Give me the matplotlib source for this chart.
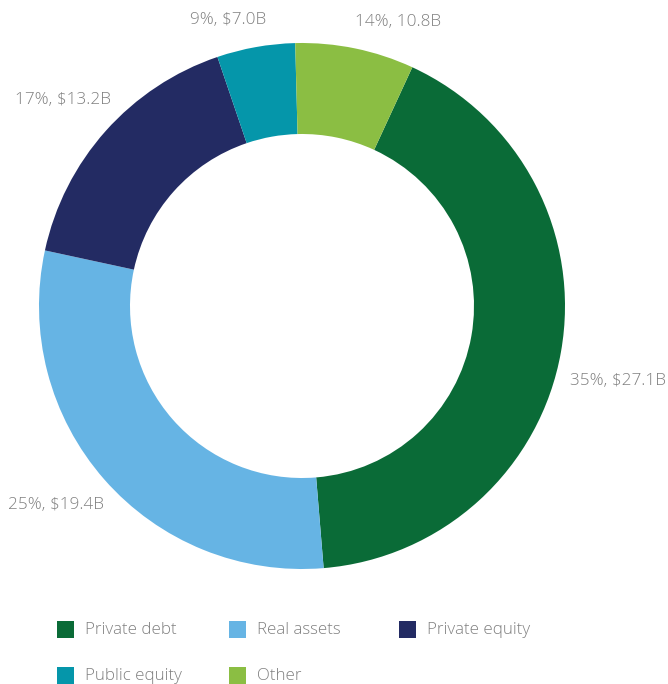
"""Donut chart of assets by class, with value labels and a square-marker legend."""

import matplotlib

matplotlib.use("Agg")
import matplotlib.pyplot as plt
from matplotlib.patches import Rectangle

# Slices in drawing order (clockwise, starting with private debt).
categories = ["Private debt", "Real assets", "Private equity", "Public equity", "Other"]
slice_share = [41.8, 29.7, 16.4, 4.8, 7.3]  # share of the ring as drawn
value_labels = ["35%, $27.1B", "25%, $19.4B", "17%, $13.2B", "9%, $7.0B", "14%, 10.8B"]
colors = ["#0a6b37", "#66b4e4", "#232b63", "#0596aa", "#8bbe43"]

W, H = 668, 684
CENTER = (302, 306)  # px, from top-left
RADIUS = 263
TEXT_GRAY = "#808080"

# label anchor (left x, centre y) in px, same order as categories
label_pos = [(570, 381), (8, 505), (15, 100), (190, 20), (355, 22)]
# legend square top-left in px
legend_pos = [(57, 621), (229, 621), (399, 621), (57, 667), (229, 667)]

plt.rcParams["font.family"] = ["Open Sans", "DejaVu Sans"]

fig = plt.figure(figsize=(W / 100, H / 100), dpi=100)
cx, cy = CENTER
ax = fig.add_axes(
    [(cx - RADIUS) / W, (H - cy - RADIUS) / H, 2 * RADIUS / W, 2 * RADIUS / H]
)
ax.pie(
    slice_share,
    colors=colors,
    startangle=90 - 24.8,
    counterclock=False,
    radius=1,
    wedgeprops=dict(width=0.346, linewidth=0),
)
ax.set_xlim(-1, 1)
ax.set_ylim(-1, 1)
ax.set_aspect("equal")
ax.axis("off")

for text, (x, y) in zip(value_labels, label_pos):
    fig.text(x / W, 1 - y / H, text, ha="left", va="center",
             fontsize=12.3, fontweight="light", color=TEXT_GRAY)

sq = 17
for name, color, (x, y) in zip(categories, colors, legend_pos):
    fig.add_artist(Rectangle((x / W, 1 - (y + sq) / H), sq / W, sq / H,
                             transform=fig.transFigure, facecolor=color, edgecolor="none"))
    fig.text((x + 28) / W, 1 - (y + sq / 2) / H, name, ha="left", va="center",
             fontsize=12.2, fontweight="light", color=TEXT_GRAY)

fig.savefig("out.png", dpi=100)
